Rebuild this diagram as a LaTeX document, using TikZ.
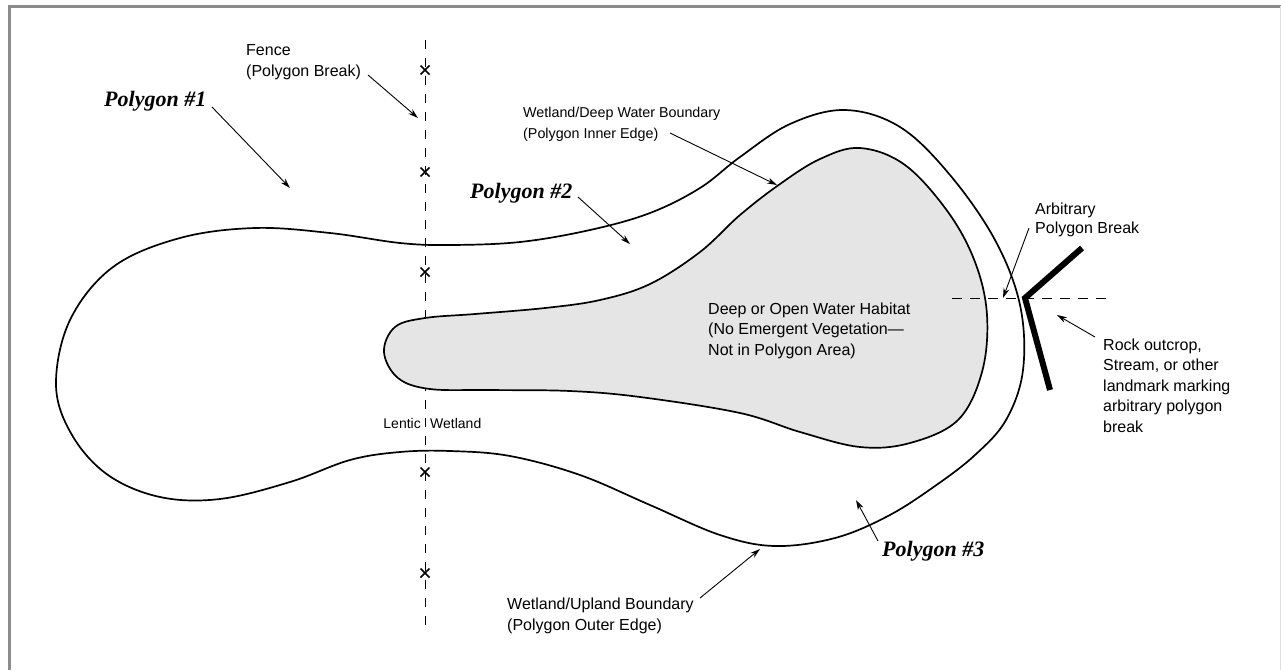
\documentclass[tikz,border=0pt]{standalone}
\usepackage{fontspec}
\setmainfont{Liberation Sans}
\newfontfamily\polyfont{Liberation Serif}
\usetikzlibrary{arrows.meta}
\definecolor{waterfill}{RGB}{229,229,229}
\definecolor{framegray}{RGB}{140,140,140}
\begin{document}
\begin{tikzpicture}[x=1pt,y=-1pt,
  lbl/.style={anchor=base west, inner sep=0pt, font=\fontsize{16}{20}\selectfont},
  lbls/.style={anchor=base west, inner sep=0pt, font=\fontsize{14.3}{18}\selectfont},
  lble/.style={anchor=base east, inner sep=0pt, font=\fontsize{14}{18}\selectfont},
  lblw/.style={anchor=base west, inner sep=0pt, font=\fontsize{14}{18}\selectfont},
  poly/.style={anchor=base west, inner sep=0pt, font=\fontsize{22}{26}\polyfont\bfseries\itshape},
  ptr/.style={line width=0.9pt, -{Stealth[length=10pt,width=6pt]}},
  edgeline/.style={line width=1.7pt, line join=round},
  fenceline/.style={line width=1pt, dash pattern=on 9pt off 9pt},
  xmark/.style={line width=1.5pt},
  landmark/.style={line width=6pt},
  breakline/.style={line width=1pt, dash pattern=on 10pt off 8pt}]
\useasboundingbox (0,0) rectangle (1281,670);
\fill[white] (0,0) rectangle (1281,670);
% frame
\draw[framegray, line width=3pt] (9,670) -- (9,6) -- (1281,6);
\draw[gray!25, line width=1pt] (1280,6) -- (1280,670);

% fence
\coordinate (fenceTop) at (425,40);
\coordinate (fenceBot) at (425,632);
\draw[fenceline] (fenceTop) -- (fenceBot);
\foreach \yy in {70,172,272,472,573}{
  \draw[xmark] (420.5,\yy-4.5) -- (429.5,\yy+4.5);
  \draw[xmark] (429.5,\yy-4.5) -- (420.5,\yy+4.5);
}

% outer boundary
\draw[edgeline] plot[smooth cycle, tension=0.6] coordinates {
 (56,385) (70,320) (113,267) (180,238) (255,228) (330,233) (400,243)
 (450,245) (520,242) (590,230) (650,213) (700,188) (740,157) (790,124)
 (845,110) (900,127) (950,175) (995,240) (1020,305) (1023,370) (1006,420)
 (975,455) (935,486) (888,516) (835,538) (775,546) (720,535) (650,505)
 (580,475) (510,456) (450,451) (400,452) (350,460) (290,482) (220,499)
 (160,497) (108,475) (72,435)};

% inner deep water
\draw[edgeline, fill=waterfill] plot[smooth cycle, tension=0.6] coordinates {
 (384,352) (395,327) (425,318) (475,314) (545,308) (600,300) (650,284)
 (700,252) (740,215) (780,184) (820,159) (860,148) (905,165) (948,212)
 (975,262) (987,315) (982,372) (958,420) (910,443) (860,447) (800,432)
 (740,413) (640,397) (570,391) (490,390) (430,389) (398,378)};

% arbitrary break
\coordinate (brkL) at (952,298);
\coordinate (brkR) at (1108,298);
\draw[breakline] (brkL) -- (brkR);
\coordinate (lmV) at (1025,298);
\coordinate (lmU) at (1082,248);
\coordinate (lmD) at (1050,390);
\draw[landmark] (lmU) -- (lmV) -- (lmD);

% labels
\node[lbl] (fenceA) at (246,55) {Fence};
\node[lbl] (fenceB) at (246,76) {(Polygon Break)};
\coordinate (fenceTail) at (368,75);
\coordinate (fenceTip) at (418,118);
\draw[ptr] (fenceTail) -- (fenceTip);

\node[lbls] (inA) at (523,117) {Wetland/Deep Water Boundary};
\node[lbls] (inB) at (523,138) {(Polygon Inner Edge)};
\coordinate (inTail) at (670,133);
\coordinate (inTip) at (777,185);
\draw[ptr] (inTail) -- (inTip);

\node[lbl] (dw1) at (708,314) {Deep or Open Water Habitat};
\node[lbl] (dw2) at (708,334) {(No Emergent Vegetation---};
\node[lbl] (dw3) at (708,355) {Not in Polygon Area)};

\node[lbl] (arbA) at (1035,214) {Arbitrary};
\node[lbl] (arbB) at (1035,233) {Polygon Break};
\coordinate (arbTail) at (1029,228);
\coordinate (arbTip) at (1003,298);
\draw[ptr] (arbTail) -- (arbTip);

\node[lbl] (r1) at (1103,350) {Rock outcrop,};
\node[lbl] (r2) at (1103,370) {Stream, or other};
\node[lbl] (r3) at (1103,391) {landmark marking};
\node[lbl] (r4) at (1103,411) {arbitrary polygon};
\node[lbl] (r5) at (1103,432) {break};
\coordinate (rockTail) at (1095,337);
\coordinate (rockTip) at (1057,315);
\draw[ptr] (rockTail) -- (rockTip);

\node[lble] (lentic) at (421,428) {Lentic};
\node[lblw] (wetl) at (430,428) {Wetland};

\node[lbl] (upA) at (507,609) {Wetland/Upland Boundary};
\node[lbl] (upB) at (507,630) {(Polygon Outer Edge)};
\coordinate (upTail) at (700,598);
\coordinate (upTip) at (760,549);
\draw[ptr] (upTail) -- (upTip);

\node[poly] (p1) at (104,106) {Polygon \#1};
\coordinate (p1Tail) at (212,107);
\coordinate (p1Tip) at (290,188);
\draw[ptr] (p1Tail) -- (p1Tip);

\node[poly] (p2) at (470,198) {Polygon \#2};
\coordinate (p2Tail) at (578,197);
\coordinate (p2Tip) at (630,244);
\draw[ptr] (p2Tail) -- (p2Tip);

\node[poly] (p3) at (882,556) {Polygon \#3};
\coordinate (p3Tail) at (878,541);
\coordinate (p3Tip) at (856,500);
\draw[ptr] (p3Tail) -- (p3Tip);
\end{tikzpicture}
\end{document}
